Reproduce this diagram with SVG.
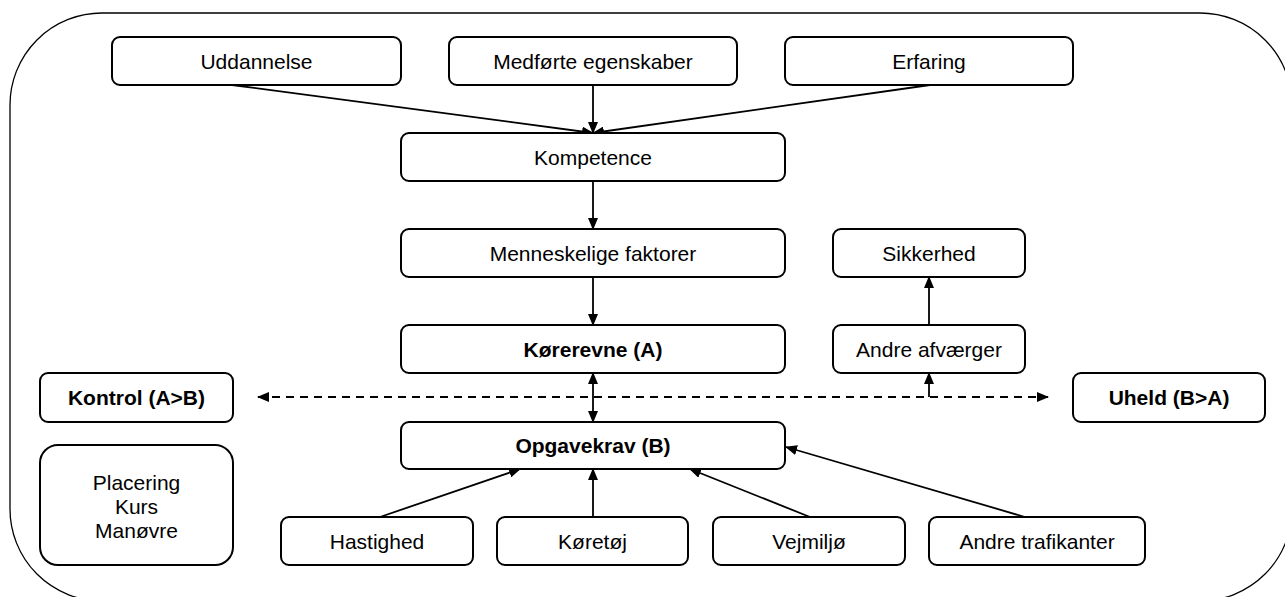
<svg xmlns="http://www.w3.org/2000/svg" width="1285" height="597" viewBox="0 0 1285 597">
<style>
.box{fill:#fff;stroke:#000;stroke-width:2}
.t{font-family:"Liberation Sans",Arial,sans-serif;font-size:21px;text-anchor:middle;fill:#000}
.b{font-weight:bold}
.c{stroke:#000;stroke-width:1.8;fill:none}
.d{stroke-dasharray:8,6}
</style>
<defs>
<marker id="ah" markerUnits="userSpaceOnUse" markerWidth="12" markerHeight="10" refX="11" refY="5" orient="auto-start-reverse" viewBox="0 0 12 10">
<path d="M0,0 L12,5 L0,10 z" fill="#000"/>
</marker>
</defs>
<rect x="10" y="13" width="1282" height="588" rx="92" ry="92" fill="#fff" stroke="#000" stroke-width="1.3"/>
<g id="connectors">
<line class="c" x1="232" y1="85" x2="593" y2="133" marker-end="url(#ah)"/>
<line class="c" x1="593" y1="85" x2="593" y2="133" marker-end="url(#ah)"/>
<line class="c" x1="930" y1="85" x2="593" y2="133" marker-end="url(#ah)"/>
<line class="c" x1="593" y1="181" x2="593" y2="229" marker-end="url(#ah)"/>
<line class="c" x1="593" y1="277" x2="593" y2="325" marker-end="url(#ah)"/>
<line class="c" x1="593" y1="373" x2="593" y2="422" marker-start="url(#ah)" marker-end="url(#ah)"/>
<line class="c" x1="929" y1="325" x2="929" y2="277" marker-end="url(#ah)"/>
<line class="c d" x1="258" y1="397" x2="1048" y2="397" marker-start="url(#ah)" marker-end="url(#ah)"/>
<line class="c" x1="929" y1="397" x2="929" y2="373" marker-end="url(#ah)"/>
<line class="c" x1="380" y1="517" x2="520" y2="469" marker-end="url(#ah)"/>
<line class="c" x1="593" y1="517" x2="593" y2="469" marker-end="url(#ah)"/>
<line class="c" x1="810" y1="517" x2="690" y2="469" marker-end="url(#ah)"/>
<line class="c" x1="1025" y1="517" x2="786" y2="447" marker-end="url(#ah)"/>
</g>
<g id="uddannelse"><rect class="box" x="112" y="37" width="289" height="48" rx="8"/><text class="t" x="256.5" y="68.5">Uddannelse</text></g>
<g id="medforte"><rect class="box" x="449" y="37" width="288" height="48" rx="8"/><text class="t" x="593" y="68.5">Medførte egenskaber</text></g>
<g id="erfaring"><rect class="box" x="785" y="37" width="288" height="48" rx="8"/><text class="t" x="929" y="68.5">Erfaring</text></g>
<g id="kompetence"><rect class="box" x="401" y="133" width="384" height="48" rx="8"/><text class="t" x="593" y="164.5">Kompetence</text></g>
<g id="menneskelige"><rect class="box" x="401" y="229" width="384" height="48" rx="8"/><text class="t" x="593" y="260.5">Menneskelige faktorer</text></g>
<g id="sikkerhed"><rect class="box" x="833" y="229" width="192" height="48" rx="8"/><text class="t" x="929" y="260.5">Sikkerhed</text></g>
<g id="korerevne"><rect class="box" x="401" y="325" width="384" height="48" rx="8"/><text class="t b" x="593" y="356.5">Kørerevne (A)</text></g>
<g id="andre-afvaerger"><rect class="box" x="833" y="325" width="192" height="48" rx="8"/><text class="t" x="929" y="356.5">Andre afværger</text></g>
<g id="kontrol"><rect class="box" x="40" y="373" width="193" height="49" rx="8"/><text class="t b" x="136.5" y="405">Kontrol (A&gt;B)</text></g>
<g id="uheld"><rect class="box" x="1073" y="373" width="192" height="49" rx="8"/><text class="t b" x="1169" y="405">Uheld (B&gt;A)</text></g>
<g id="opgavekrav"><rect class="box" x="401" y="422" width="384" height="47" rx="8"/><text class="t b" x="593" y="453">Opgavekrav (B)</text></g>
<g id="placering"><rect class="box" x="40" y="445" width="193" height="120" rx="18"/><text class="t" x="136.5" y="490">Placering</text><text class="t" x="136.5" y="514">Kurs</text><text class="t" x="136.5" y="538">Manøvre</text></g>
<g id="hastighed"><rect class="box" x="281" y="517" width="192" height="48" rx="8"/><text class="t" x="377" y="548.5">Hastighed</text></g>
<g id="koretoj"><rect class="box" x="497" y="517" width="191" height="48" rx="8"/><text class="t" x="592.5" y="548.5">Køretøj</text></g>
<g id="vejmiljo"><rect class="box" x="713" y="517" width="192" height="48" rx="8"/><text class="t" x="809" y="548.5">Vejmiljø</text></g>
<g id="andre-trafikanter"><rect class="box" x="929" y="517" width="216" height="48" rx="8"/><text class="t" x="1037" y="548.5">Andre trafikanter</text></g>
</svg>
